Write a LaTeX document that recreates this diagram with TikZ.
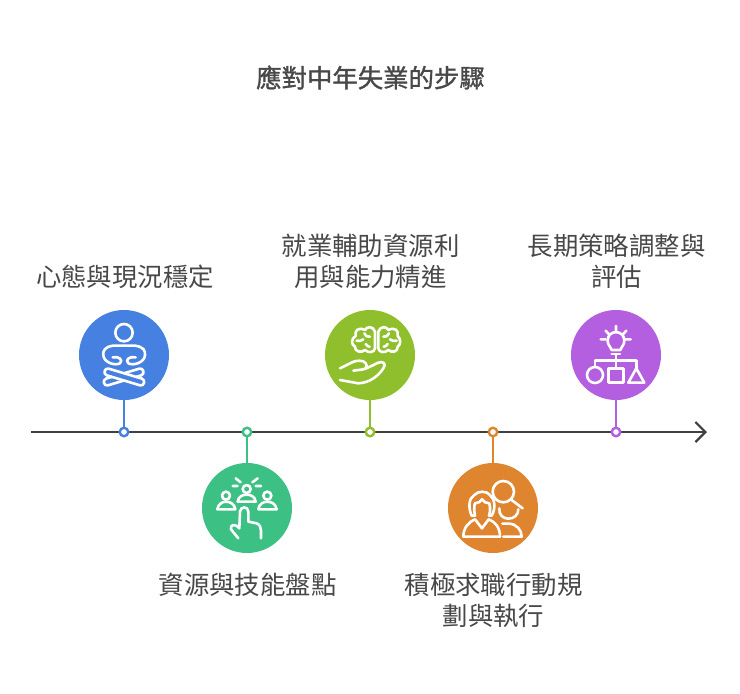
\documentclass[tikz,border=0pt]{standalone}
\usepackage{fontspec}
\setmainfont{Noto Sans CJK TC}
\newfontfamily\ttlfont[FakeBold=1.2]{Noto Sans CJK TC}
\usetikzlibrary{arrows.meta}
\definecolor{cblue}{HTML}{4680E0}
\definecolor{cgreen}{HTML}{3CC083}
\definecolor{clime}{HTML}{8FBF2D}
\definecolor{corange}{HTML}{DF8530}
\definecolor{cpurple}{HTML}{B35FE0}
\definecolor{ink}{HTML}{484848}
\definecolor{axisc}{HTML}{404040}
\tikzset{
  disc/.style={circle,fill=#1,minimum size=90pt,inner sep=0pt},
  dot/.style={circle,draw=#1,fill=white,line width=2.4pt,minimum size=8.5pt,inner sep=0pt},
  stem/.style={draw=#1,line width=2.8pt},
  lab/.style={font=\fontsize{25.4pt}{31pt}\selectfont,text=ink,align=center,inner sep=0pt},
  ttl/.style={font=\ttlfont\fontsize{25.4pt}{30pt}\selectfont,text=ink,inner sep=0pt},
  icon/.style args={#1,#2}{shift={(#1pt,-#2pt)},x=0.3333pt,y=-0.3333pt,draw=white,line width=2.6pt,line cap=round,line join=round}
}
\begin{document}
\begin{tikzpicture}[x=1pt,y=-1pt]
\useasboundingbox (0,0) rectangle (740,694);
\fill[white] (0,0) rectangle (740,694);
\node[ttl] (title) at (370.5,77.5) {應對中年失業的步驟};
\coordinate (axs) at (31,432);
\coordinate (axe) at (707,432);
\draw[axisc,line width=2.4pt,-{Straight Barb[length=10pt,width=20pt,line width=2.2pt]}] (axs) -- (axe);
\node[disc=cblue] (c1) at (124,355) {};
\node[disc=cgreen] (c2) at (247,508) {};
\node[disc=clime] (c3) at (370,355) {};
\node[disc=corange] (c4) at (493,508) {};
\node[disc=cpurple] (c5) at (616,355) {};
\node[dot=cblue] (d1) at (124,432) {};
\node[dot=cgreen] (d2) at (247,432) {};
\node[dot=clime] (d3) at (370,432) {};
\node[dot=corange] (d4) at (493,432) {};
\node[dot=cpurple] (d5) at (616,432) {};
\draw[stem=cblue] (c1) -- (d1);
\draw[stem=cgreen] (c2) -- (d2);
\draw[stem=clime] (c3) -- (d3);
\draw[stem=corange] (c4) -- (d4);
\draw[stem=cpurple] (c5) -- (d5);
\node[lab] (t1) at (125,277) {心態與現況穩定};
\node[lab] (t2) at (247.5,585) {資源與技能盤點};
\node[lab] (t3) at (370.5,261.5) {就業輔助資源利\\用與能力精進};
\node[lab] (t4) at (493.5,600) {積極求職行動規\\劃與執行};
\node[lab] (t5) at (616.5,261.5) {長期策略調整與\\評估};
% blue icon
\begin{scope}[icon={70,300}]
\draw (162,98) circle (26);
\draw (162,137) -- (130,137) .. controls (105,140) and (98,152) .. (100,166) .. controls (102,188) and (135,198) .. (150,190) .. controls (160,180) and (148,168) .. (128,172);
\draw (162,137) -- (195,137) .. controls (220,140) and (227,152) .. (225,166) .. controls (223,188) and (190,198) .. (175,190) .. controls (165,180) and (177,168) .. (197,172);
\draw (116,206) -- (216,236) .. controls (228,240) and (222,260) .. (210,256) -- (110,226) .. controls (98,222) and (104,202) .. (116,206) -- cycle;
\draw (125.7,230.7) -- (108,236) .. controls (96,240) and (102,260) .. (114,256) -- (161.8,241.5);
\draw (162,219.8) -- (208,206) .. controls (220,202) and (226,222) .. (214,226) -- (198.3,230.7);
\end{scope}
% green icon
\begin{scope}[icon={195,420}]
\draw (155,207) circle (12);
\draw (128,245) .. controls (130,228) and (145,224) .. (155,224) .. controls (165,224) and (180,228) .. (182,245) -- cycle;
\draw (93,227) circle (12);
\draw (67,268) .. controls (69,252) and (83,245) .. (93,245) .. controls (105,245) and (119,252) .. (121,268) -- cycle;
\draw (217,227) circle (12);
\draw (190,268) .. controls (192,252) and (205,245) .. (217,245) .. controls (229,245) and (243,252) .. (245,268) -- cycle;
\draw (122,175) -- (137,187) (172,187) -- (188,175) (113,198) -- (128,198) (182,198) -- (198,198);
\draw (130,355) -- (108,328) .. controls (105,315) and (118,308) .. (133,325) -- (135,275) .. controls (136,258) and (160,258) .. (160,275) -- (160,305) -- (185,310) .. controls (195,315) and (198,322) .. (198,332) -- (198,355);
\end{scope}
% lime icon
\begin{scope}[icon={315,300}]
\draw (180,95) .. controls (175,78) and (155,78) .. (150,90) .. controls (130,80) and (118,92) .. (122,108) .. controls (108,115) and (108,135) .. (120,140) .. controls (118,155) and (140,160) .. (150,150) .. controls (160,160) and (178,158) .. (180,145) -- cycle;
\draw (190,95) .. controls (195,78) and (215,78) .. (220,90) .. controls (240,80) and (252,92) .. (248,108) .. controls (258,115) and (258,135) .. (248,140) .. controls (250,155) and (230,160) .. (220,150) .. controls (210,160) and (192,158) .. (190,145) -- cycle;
\draw (148,100) .. controls (150,108) and (158,112) .. (165,110) (125,122) .. controls (132,125) and (140,122) .. (145,118) (152,132) .. controls (156,138) and (160,140) .. (164,140);
\draw (222,100) .. controls (220,108) and (212,112) .. (205,110) (245,122) .. controls (238,125) and (230,122) .. (225,118) (218,132) .. controls (214,138) and (210,140) .. (206,140);
\draw (75,205) -- (105,190) .. controls (118,183) and (130,180) .. (145,184) .. controls (158,190) and (158,205) .. (146,208) -- (115,212);
\draw (150,207) -- (190,188) .. controls (205,182) and (215,192) .. (205,205) .. controls (190,228) and (165,248) .. (130,250) -- (75,240);
\end{scope}
% orange icon
\begin{scope}[icon={440,420}]
\draw (190,215) circle (32);
\draw (215,240) -- (248,265);
\draw (95,287) .. controls (85,265) and (85,235) .. (103,225) .. controls (115,212) and (140,212) .. (150,225) .. controls (165,238) and (168,265) .. (155,287) -- (147,287);
\draw (95,287) -- (105,287) .. controls (102,270) and (102,258) .. (105,250) .. controls (115,250) and (122,245) .. (126,238) .. controls (130,245) and (138,250) .. (148,250) .. controls (152,265) and (150,278) .. (147,287);
\draw (70,350) .. controls (70,322) and (88,305) .. (105,298) -- (126,325) -- (146,298) .. controls (165,305) and (180,322) .. (180,350) -- cycle;
\draw (178,265) .. controls (176,285) and (190,296) .. (205,296) .. controls (222,296) and (235,285) .. (235,268);
\draw (187,311) -- (205,311) .. controls (230,311) and (245,330) .. (245,350) -- (190,350);
\end{scope}
% purple icon
\begin{scope}[icon={560,300}]
\draw (155,150) .. controls (150,138) and (143,134) .. (143,122) .. controls (143,88) and (193,88) .. (193,122) .. controls (193,134) and (186,138) .. (181,150) -- cycle;
\draw (155,162) -- (180,162) (168,162) -- (168,205);
\draw (105,200) -- (105,182) -- (230,182) -- (230,205);
\draw (105,225) circle (24);
\draw (145,205) rectangle (190,248);
\draw (205,248) -- (253,248) -- (229,205) -- cycle;
\draw (122,118) -- (137,118) (137,92) -- (147,103) (168,78) -- (168,92) (199,92) -- (189,103) (197,118) -- (212,118);
\end{scope}
\end{tikzpicture}
\end{document}
